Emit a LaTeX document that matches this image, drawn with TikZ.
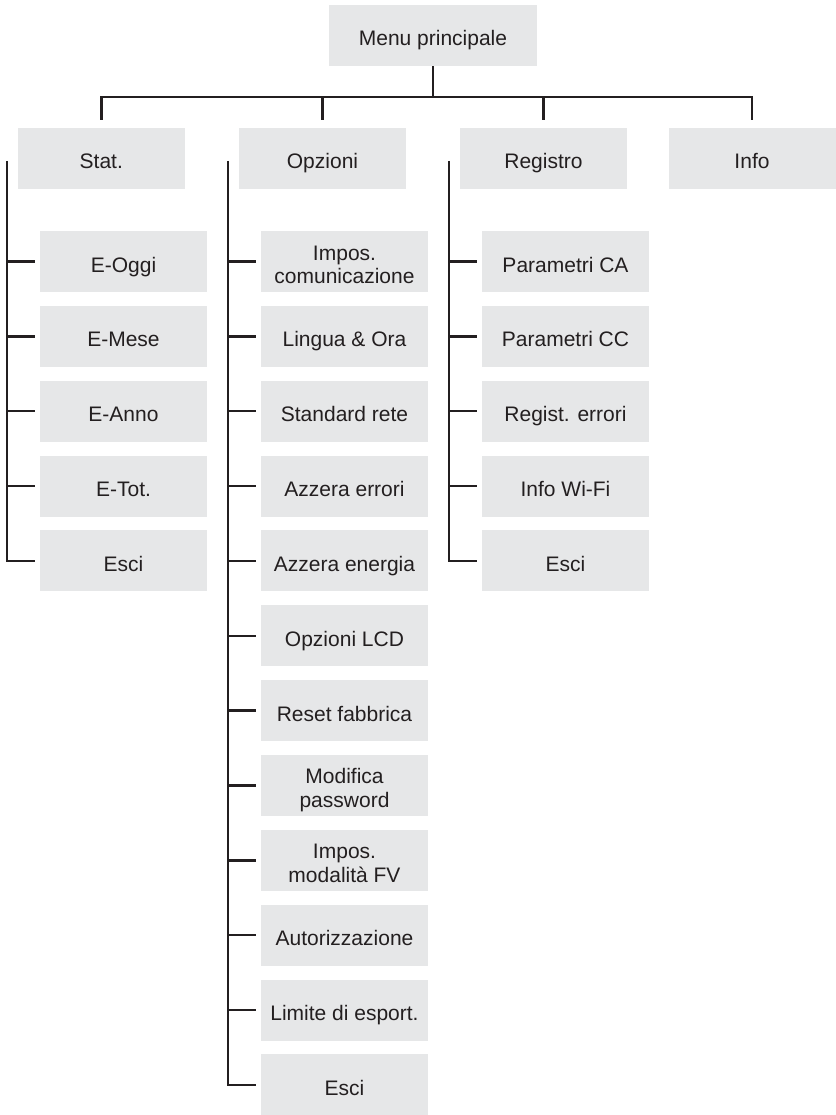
\documentclass[tikz,border=0pt]{standalone}
\usepackage{fontspec}
\setmainfont{Liberation Sans}
\usetikzlibrary{calc}
\definecolor{boxgray}{HTML}{E6E7E8}
\definecolor{ink}{HTML}{231F20}
\begin{document}
\begin{tikzpicture}[x=1pt,y=-1pt,
  item/.style={fill=boxgray, minimum width=167pt, minimum height=61pt, inner sep=0pt,
    text=ink, font=\fontsize{21}{23.5}\selectfont, align=center,
    text height=21pt, text depth=0pt},
  one/.style={},
  two/.style={text height=44pt},
  conn/.style={draw=ink, line width=2.5pt, line join=miter}]
\useasboundingbox (0,0) rectangle (835,1115);
% top level
\node[item, minimum width=208pt] (menu) at (433,35.5) {Menu principale};
\node[item] (stat) at (101.3,158.5) {Stat.};
\node[item] (opz)  at (322.5,158.5) {Opzioni};
\node[item] (reg)  at (543.5,158.5) {Registro};
\node[item] (info) at (752,158.5) {Info};
% Stat children
\foreach \t [count=\i from 0] in {E-Oggi,E-Mese,E-Anno,E-Tot.,Esci}
  \node[item] (s\i) at (123.5,261.5+74.85*\i) {\t};
% Opzioni children
\foreach \t/\s [count=\i from 0] in {Impos.\\comunicazione/two,Lingua \& Ora/one,Standard rete/one,Azzera errori/one,Azzera energia/one,Opzioni LCD/one,Reset fabbrica/one,Modifica\\password/two,Impos.\\modalità FV/two,Autorizzazione/one,Limite di esport./one,Esci/one}
  \node[item,\s] (o\i) at (344.5,261.5+74.85*\i) {\t};
% Registro children
\foreach \t [count=\i from 0] in {Parametri CA,Parametri CC,Regist. errori,Info Wi-Fi,Esci}
  \node[item] (r\i) at (565.5,261.5+74.85*\i) {\t};
% top connectors
\draw[conn] (menu.south) -- ++(0,-31pt);
\draw[conn] ([yshift=8pt]stat.north) -- ++(0,23pt) -| ([yshift=8pt]info.north);
\draw[conn] ([yshift=8pt]opz.north) -- ++(0,23pt);
\draw[conn] ([yshift=8pt]reg.north) -- ++(0,23pt);
% Stat tree
\draw[conn] ($(s0.west|-stat.west)+(-33pt,-2.5pt)$) |- ([xshift=-5pt]s4.west);
\foreach \i in {0,...,3} \draw[conn] ([xshift=-5pt]s\i.west) -- ++(-28pt,0);
% Opzioni tree
\draw[conn] ($(o0.west|-opz.west)+(-33pt,-2.5pt)$) |- ([xshift=-5pt]o11.west);
\foreach \i in {0,...,10} \draw[conn] ([xshift=-5pt]o\i.west) -- ++(-28pt,0);
% Registro tree
\draw[conn] ($(r0.west|-reg.west)+(-33pt,-2.5pt)$) |- ([xshift=-5pt]r4.west);
\foreach \i in {0,...,3} \draw[conn] ([xshift=-5pt]r\i.west) -- ++(-28pt,0);
\end{tikzpicture}
\end{document}
